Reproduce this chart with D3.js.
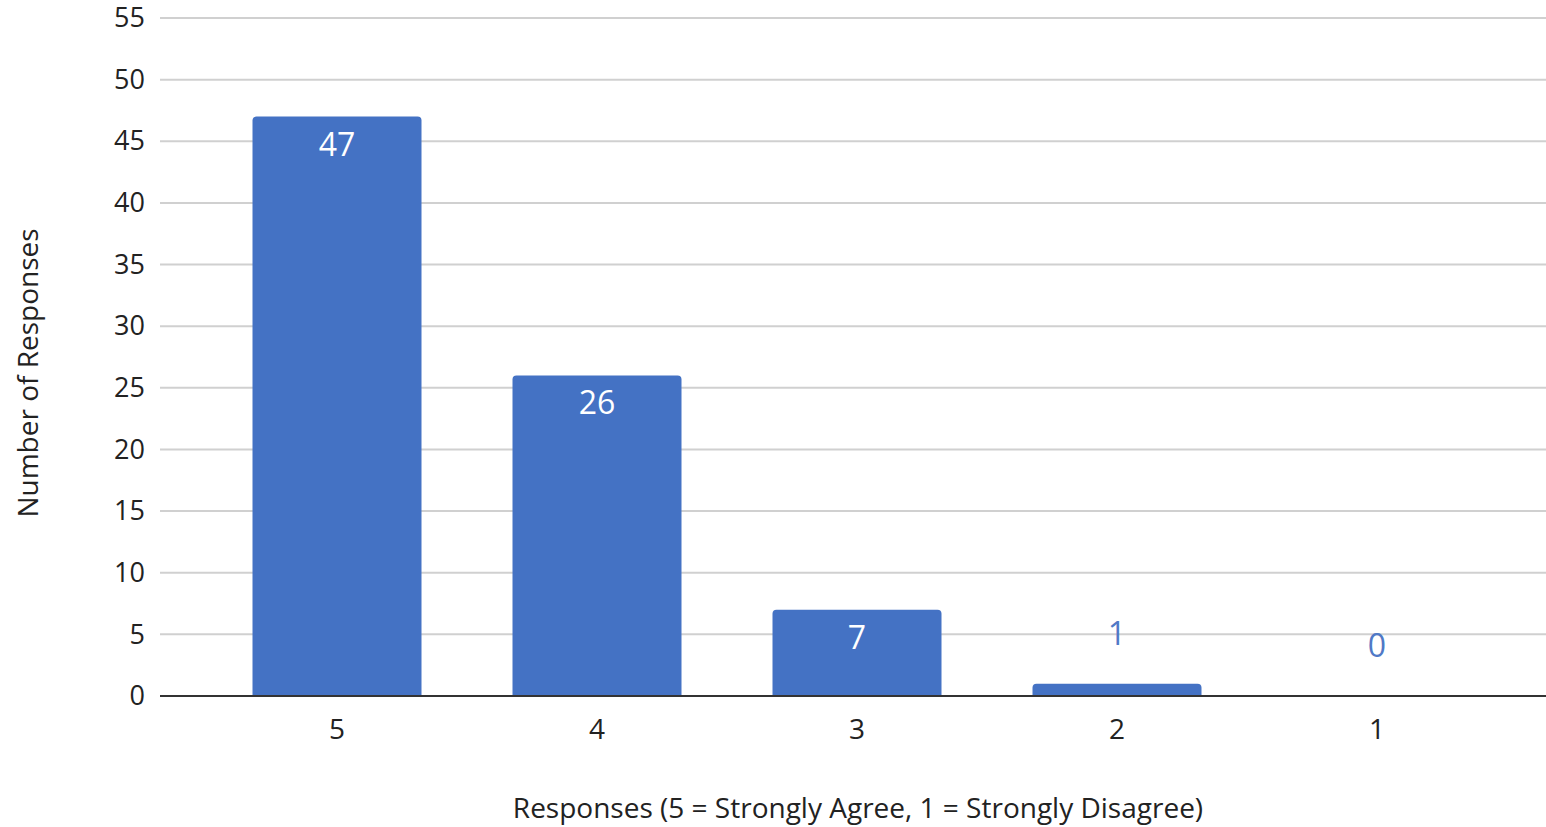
<!DOCTYPE html>
<html><head><meta charset="utf-8">
<script src="https://cdn.jsdelivr.net/npm/d3@7"></script>
<style>body{margin:0;background:#fff;font-family:"Open Sans",sans-serif;}</style>
</head><body><svg id="c" width="1546" height="827"></svg>
<script>
const categories = ["5","4","3","2","1"];
const values = [47,26,7,1,0];
const yTicks = [0,5,10,15,20,25,30,35,40,45,50,55];
const xTitle = "Responses (5 = Strongly Agree, 1 = Strongly Disagree)";
const yTitle = "Number of Responses";

const svg = d3.select("#c");
const gridX0 = 160, gridX1 = 1546;
const x = d3.scaleBand().domain(categories).range([207,1507]).paddingInner(0.35).paddingOuter(0.175);
const y = d3.scaleLinear().domain([0,55]).range([696,18]);
const blue = "#4472C4";

svg.append("g").selectAll("line").data(yTicks.filter(d=>d>0)).join("line")
  .attr("x1",gridX0).attr("x2",gridX1).attr("y1",d=>y(d)).attr("y2",d=>y(d))
  .attr("stroke","#d0d0d0").attr("stroke-width",2);

const yAxis = d3.axisLeft(y).tickValues(yTicks).tickSize(0).tickPadding(0);
const ya = svg.append("g").attr("transform",`translate(145,0)`).call(yAxis);
ya.select(".domain").remove();
ya.selectAll("text").attr("font-size",27).attr("fill","#222").attr("font-family","Open Sans");

const r = 4;
svg.append("g").selectAll("path").data(values.map((v,i)=>({c:categories[i],v}))).join("path")
  .filter(d=>d.v>0)
  .attr("fill",blue)
  .attr("d",d=>{
    const x0=x(d.c), w=x.bandwidth(), y0=y(d.v), yb=y(0);
    return `M${x0},${yb}V${y0+r}Q${x0},${y0} ${x0+r},${y0}H${x0+w-r}Q${x0+w},${y0} ${x0+w},${y0+r}V${yb}Z`;
  });

svg.append("line").attr("x1",gridX0).attr("x2",gridX1).attr("y1",y(0)).attr("y2",y(0))
  .attr("stroke","#333").attr("stroke-width",2);

const xAxis = d3.axisBottom(x).tickSize(0).tickPadding(0);
const xa = svg.append("g").attr("transform",`translate(0,${y(0)})`).call(xAxis);
xa.select(".domain").remove();
xa.selectAll("text").attr("font-size",28).attr("fill","#222").attr("dy","1.55em").attr("font-family","Open Sans");

svg.append("g").selectAll("text").data(values.map((v,i)=>({c:categories[i],v}))).join("text")
  .attr("x",d=>x(d.c)+x.bandwidth()/2)
  .attr("y",d=> d.v>=5 ? y(d.v)+39 : y(d.v)-39)
  .attr("text-anchor","middle").attr("font-size",32)
  .attr("fill",d=>d.v>=5?"#fff":"#5079c6")
  .text(d=>d.v);

svg.append("text").attr("x",858).attr("y",818).attr("text-anchor","middle")
  .attr("font-size",28).attr("fill","#222").text(xTitle);
svg.append("text").attr("transform","translate(38,373) rotate(-90)").attr("text-anchor","middle")
  .attr("font-size",28).attr("fill","#222").text(yTitle);
</script></body></html>
